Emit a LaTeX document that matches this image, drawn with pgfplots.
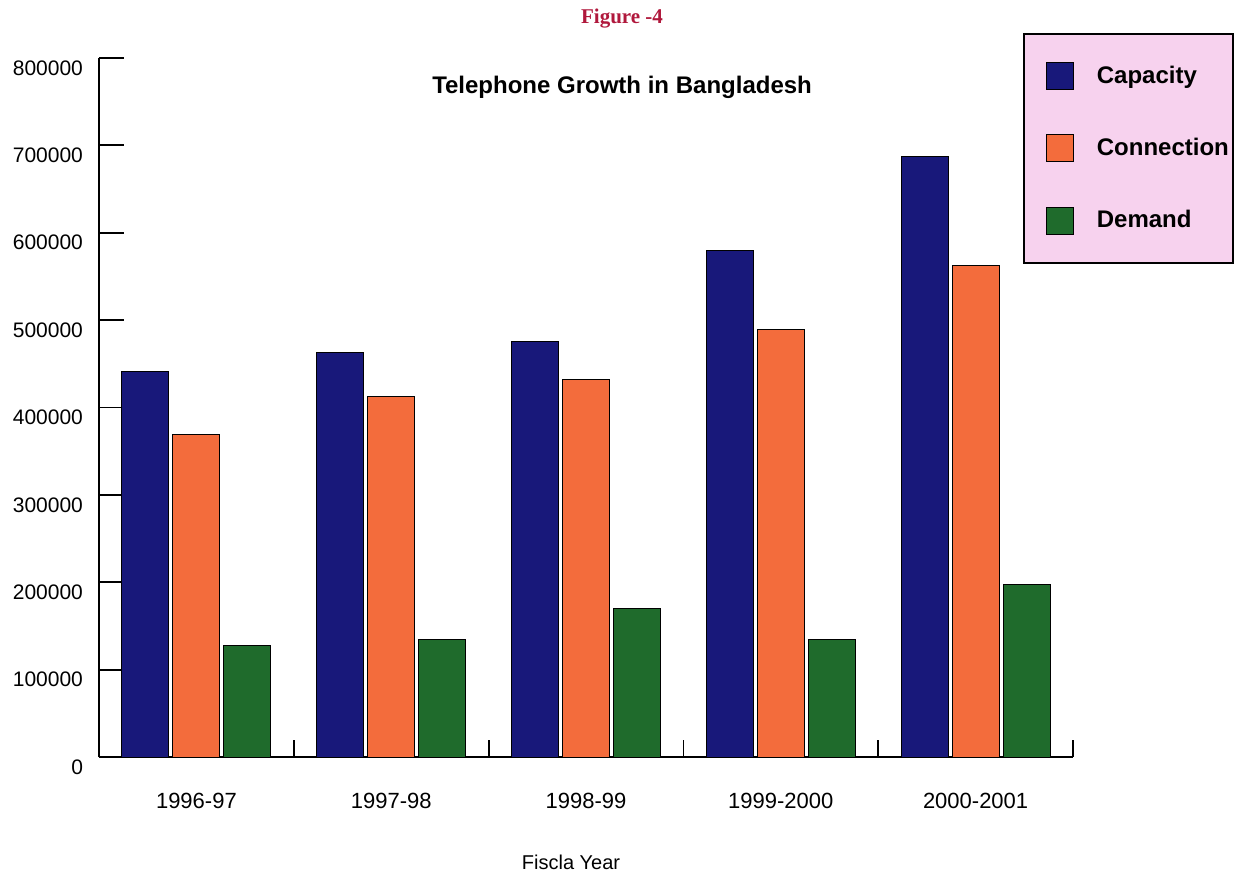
\documentclass[border=0pt]{standalone}
\usepackage{pgfplots}
\pgfplotsset{compat=1.18}
\usepackage{fontspec}
\setmainfont{Liberation Sans}
\newfontfamily\serifb{Liberation Serif}
\definecolor{capcol}{HTML}{18187A}
\definecolor{concol}{HTML}{F36C3C}
\definecolor{demcol}{HTML}{1F6B2C}
\definecolor{legpink}{HTML}{F7D2EE}
\definecolor{figred}{HTML}{B0183C}
\begin{document}
\begin{tikzpicture}
\path[use as bounding box] (-49.5pt,-58pt) rectangle (568.5pt,378.5pt);
\begin{axis}[
  at={(0,0)}, anchor=south west,
  scale only axis, width=487pt, height=349.5pt,
  clip=false,
  xmin=0, xmax=5, ymin=0, ymax=800000,
  axis x line=bottom, axis y line=left,
  axis line style={-, line width=1pt},
  xtick={1,2,3,4,5},
  xticklabels={},
  xtick style={line width=0.9pt, black, /pgfplots/major tick length=-8.5pt},
  extra x ticks={0.5,1.5,2.5,3.5,4.5},
  extra x tick labels={1996-97,1997-98,1998-99,1999-2000,2000-2001},
  extra x tick style={xtick style={draw=none}},
  ytick={0,100000,...,800000},
  ytick style={line width=0.9pt, black},
  major tick length=12.5pt,
  tick align=inside,
  scaled y ticks=false,
  /pgf/number format/assume math mode=true,
  yticklabel={\pgfmathprintnumber[fixed,1000 sep={}]{\tick}},
  yticklabel style={yshift=-5pt, xshift=-4.5pt, font=\fontsize{10.5}{12}\selectfont},
  xticklabel style={yshift=-2pt, font=\fontsize{11}{12}\selectfont},
  ybar, bar width=23.5pt,
  legend style={at={(rel axis cs:0.9487,1.0358)}, anchor=north west,
    fill=legpink, draw=black, line width=0.8pt,
    inner xsep=2pt, inner ysep=14pt, row sep=22pt,
    nodes={inner xsep=0pt},
    font=\bfseries\fontsize{12}{14}\selectfont, legend cell align=left},
  legend image code/.code={\path (-9pt,0pt) (25pt,0pt); \draw[#1, draw=black, line width=0.4pt] (0pt,-6.75pt) rectangle (13.5pt,6.75pt);},
]
\addplot[fill=capcol, draw=black, line width=0.5pt, bar shift=-25.5pt] coordinates {(0.5,441000) (1.5,463500) (2.5,475000) (3.5,580000) (4.5,687500)};
\addplot[fill=concol, draw=black, line width=0.5pt, bar shift=0pt] coordinates {(0.5,369500) (1.5,413000) (2.5,432500) (3.5,489500) (4.5,562000)};
\addplot[fill=demcol, draw=black, line width=0.5pt, bar shift=25.5pt] coordinates {(0.5,128000) (1.5,135000) (2.5,170500) (3.5,134000) (4.5,197000)};
\legend{Capacity,Connection,Demand}
\node[font=\bfseries\fontsize{12}{14}\selectfont] at (rel axis cs:0.537,0.9585) {Telephone Growth in Bangladesh};
\node[font=\serifb\bfseries\fontsize{10.5}{12}\selectfont, text=figred] at (rel axis cs:0.537,1.057) {Figure -4};
\node[font=\fontsize{10}{12}\selectfont] at (rel axis cs:0.4846,-0.150) {Fiscla Year};
\end{axis}
\end{tikzpicture}
\end{document}
